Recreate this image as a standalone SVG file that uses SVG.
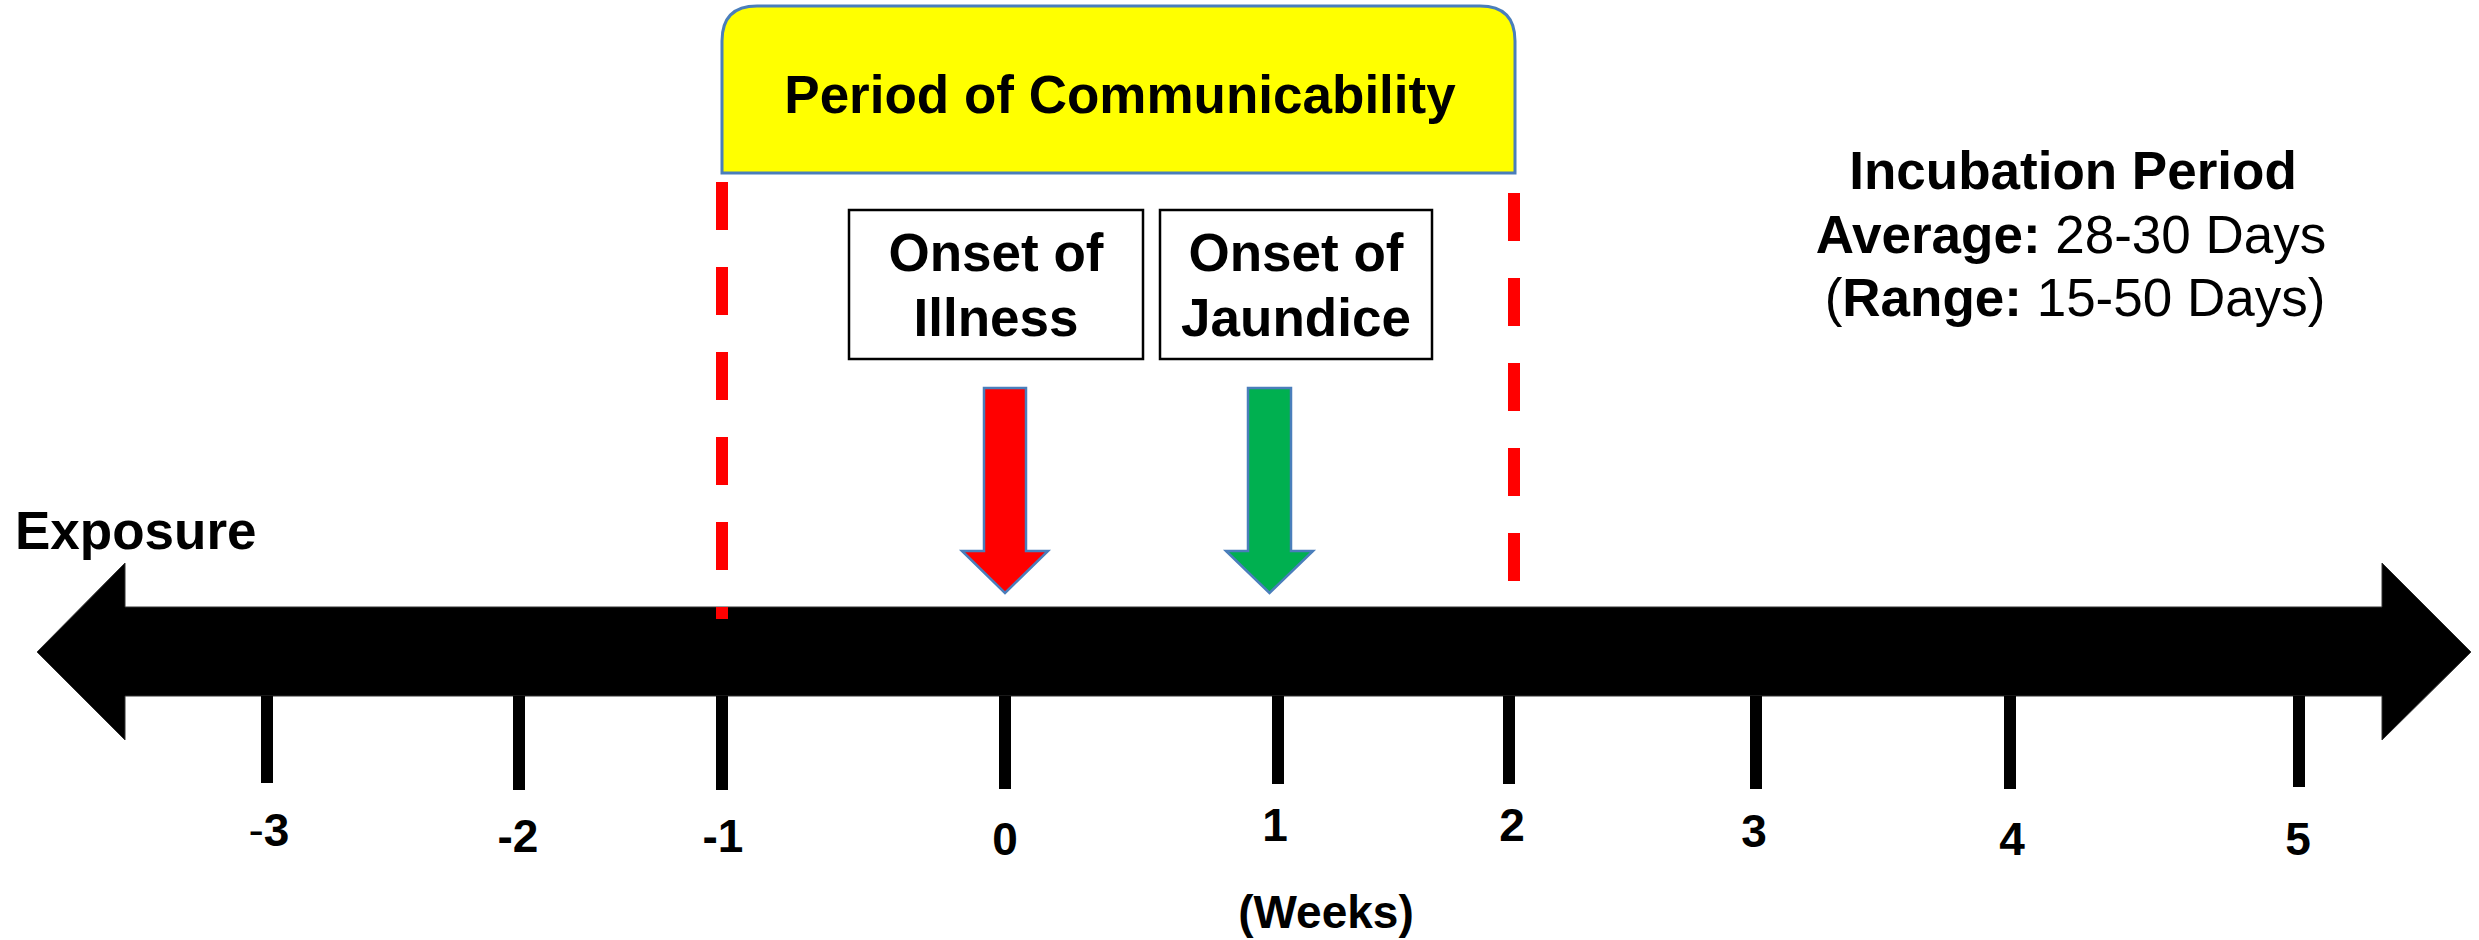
<svg xmlns="http://www.w3.org/2000/svg" width="2479" height="940" viewBox="0 0 2479 940">
<style>
text{font-family:"Liberation Sans",Arial,sans-serif;fill:#000}
.b{font-weight:bold}
.t53{font-size:53px}
.lab{font-size:46px;font-weight:bold;text-anchor:middle}
.tick{fill:#000}
.dash{stroke:#ff0000;stroke-width:12;stroke-dasharray:48 37;fill:none}
.onset{fill:#fff;stroke:#000;stroke-width:2.5}
.blk{stroke:#4a7ebb;stroke-width:2.5}
</style>
<rect width="2479" height="940" fill="#fff"/>

<g id="timeline">
  <polygon points="37,652 125,563 125,607 2382,607 2382,563 2471,652 2382,740 2382,696 125,696 125,740" fill="#000" stroke="#333" stroke-width="1"/>
  <g id="ticks">
    <rect class="tick" x="261" y="696" width="12" height="87"/>
    <rect class="tick" x="513" y="696" width="12" height="94"/>
    <rect class="tick" x="716" y="696" width="12" height="94"/>
    <rect class="tick" x="999" y="696" width="12" height="93"/>
    <rect class="tick" x="1272" y="696" width="12" height="88"/>
    <rect class="tick" x="1503" y="696" width="12" height="88"/>
    <rect class="tick" x="1750" y="696" width="12" height="93"/>
    <rect class="tick" x="2004" y="696" width="12" height="93"/>
    <rect class="tick" x="2293" y="696" width="12" height="91"/>
  </g>
  <g id="tick-labels">
    <text class="lab" x="269" y="846"><tspan font-weight="normal">-</tspan>3</text>
    <text class="lab" x="518" y="852">-2</text>
    <text class="lab" x="723" y="852">-1</text>
    <text class="lab" x="1005" y="855">0</text>
    <text class="lab" x="1275" y="841">1</text>
    <text class="lab" x="1512" y="841">2</text>
    <text class="lab" x="1754" y="847">3</text>
    <text class="lab" x="2012" y="855">4</text>
    <text class="lab" x="2298" y="855">5</text>
    <text class="lab" x="1326" y="928">(Weeks)</text>
  </g>
</g>

<g id="exposure">
  <text class="b t53" x="15" y="549">Exposure</text>
</g>

<g id="communicability">
  <path d="M722,173 L722,41 Q722,6 757,6 L1480,6 Q1515,6 1515,41 L1515,173 Z" fill="#ffff00" stroke="#4a7ebb" stroke-width="3"/>
  <text class="b t53" x="1120" y="113" text-anchor="middle">Period of Communicability</text>
</g>

<g id="period-bounds">
  <line class="dash" x1="722" y1="182" x2="722" y2="619"/>
  <line class="dash" x1="1514" y1="193" x2="1514" y2="583"/>
</g>

<g id="onset-illness">
  <rect class="onset" x="849" y="210" width="294" height="149"/>
  <text class="b t53" x="996" y="271" text-anchor="middle">Onset of</text>
  <text class="b t53" x="996" y="336" text-anchor="middle">Illness</text>
</g>

<g id="onset-jaundice">
  <rect class="onset" x="1160" y="210" width="272" height="149"/>
  <text class="b t53" x="1296" y="271" text-anchor="middle">Onset of</text>
  <text class="b t53" x="1296" y="336" text-anchor="middle">Jaundice</text>
</g>

<g id="incubation">
  <text class="t53" x="2073" y="189" text-anchor="middle" font-weight="bold">Incubation Period</text>
  <text class="t53" x="2071" y="253" text-anchor="middle"><tspan font-weight="bold">Average:</tspan> 28-30 Days</text>
  <text class="t53" x="2075" y="316" text-anchor="middle">(<tspan font-weight="bold">Range:</tspan> 15-50 Days)</text>
</g>

<g id="connectors">
  <polygon class="blk" points="984,388 1026,388 1026,551 1048,551 1005,593 962,551 984,551" fill="#ff0000"/>
  <polygon class="blk" points="1248,388 1291,388 1291,551 1313,551 1269.5,593 1226,551 1248,551" fill="#00b050"/>
</g>
</svg>
